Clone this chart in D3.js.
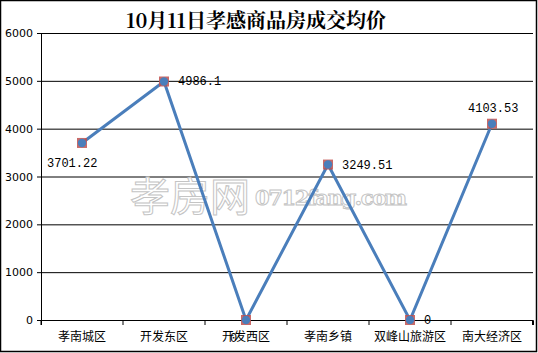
<!DOCTYPE html>
<html>
<head>
<meta charset="utf-8">
<script src="https://cdn.jsdelivr.net/npm/d3@7"></script>
<style>
  body { margin: 0; background: #fff; }
  svg { display: block; }
  .axis text { font-family: "DejaVu Sans", sans-serif; font-size: 11px; fill: #000; }
  .axis path, .axis line { stroke: #000; }
</style>
</head>
<body>
<div id="chart"></div>
<script>
'use strict';

// chart data
const categories = ['孝南城区', '开发东区', '开发西区', '孝南乡镇', '双峰山旅游区', '南大经济区'];
const prices = [3701.22, 4986.1, 0, 3249.51, 0, 4103.53];
const y_ticks = [0, 1000, 2000, 3000, 4000, 5000, 6000];
const title = '10月11日孝感商品房成交均价';

const svg_width = 538, svg_height = 353;
const margin = [33, 33, 41, 5]; // top, bottom, left, right
const chart_width = svg_width - margin[2] - margin[3];
const chart_height = svg_height - margin[0] - margin[1];

const svg = d3.select('#chart').append('svg')
    .attr('width', svg_width)
    .attr('height', svg_height);

// outer frame
svg.append('rect')
    .attr('x', 0.5).attr('y', 0.5)
    .attr('width', svg_width - 2).attr('height', svg_height - 2)
    .attr('fill', 'none').attr('stroke', '#000').attr('stroke-width', 1.5);

svg.append('text')
    .attr('x', 256).attr('y', 28)
    .attr('text-anchor', 'middle')
    .style('font-family', '"Noto Serif CJK SC", "Noto Sans CJK SC", serif')
    .style('font-size', '20px').style('font-weight', 'bold')
    .text(title);

const scale_x = d3.scaleBand().domain(categories).range([0, chart_width]);
const scale_y = d3.scaleLinear().domain([0, 6000]).range([chart_height, 0]);

const chart = svg.append('g').attr('transform', `translate(${margin[2]},${margin[0]})`);

// gridlines
chart.selectAll('line.grid').data(y_ticks.filter(d => d > 0))
    .join('line').classed('grid', true)
    .attr('x1', 0).attr('x2', chart_width)
    .attr('y1', d => scale_y(d) + 0.5).attr('y2', d => scale_y(d) + 0.5)
    .attr('stroke', '#000');

// watermark (outlined text)
const wm = chart.append('g').attr('fill', '#fff').attr('stroke', '#c4c4c4').attr('stroke-width', 1);
wm.append('text')
    .attr('x', 89).attr('y', 178)
    .style('font-family', '"Noto Sans CJK SC", sans-serif')
    .style('font-size', '40px')
    .text('孝房网');
wm.append('text')
    .attr('x', 214).attr('y', 172)
    .attr('textLength', 152)
    .style('font-family', '"DejaVu Serif", serif')
    .style('font-size', '21px').style('font-weight', 'bold')
    .text('0712fang.com');

// axes
chart.append('g').classed('axis', true)
    .attr('transform', `translate(0,${chart_height})`)
    .call(d3.axisBottom(scale_x).tickSize(5).tickSizeOuter(5).tickFormat(''))
    .call(g => {
        g.selectAll('.tick line').attr('transform', `translate(${-scale_x.bandwidth() / 2},0)`);
        g.append('line').attr('x1', chart_width - 0.5).attr('x2', chart_width - 0.5).attr('y1', 0).attr('y2', 5).attr('stroke', '#000');
    });

chart.append('g').classed('axis', true)
    .call(d3.axisLeft(scale_y).tickValues(y_ticks).tickFormat(d3.format('d')).tickSize(4).tickSizeOuter(0).tickPadding(4))
    .call(g => g.select('.domain').remove())
    .call(g => g.append('line').attr('x1', 0.5).attr('x2', 0.5).attr('y1', 0).attr('y2', chart_height + 5).attr('stroke', '#000'));

// category labels
chart.selectAll('text.cat').data(categories)
    .join('text').classed('cat', true)
    .attr('x', d => scale_x(d) + scale_x.bandwidth() / 2)
    .attr('y', chart_height + 21)
    .attr('text-anchor', 'middle')
    .style('font-family', '"Noto Sans CJK SC", sans-serif')
    .style('font-size', '12px')
    .text(d => d);

const cx = (d, i) => scale_x(categories[i]) + scale_x.bandwidth() / 2;
const cy = d => scale_y(d);

// line
chart.append('path')
    .datum(prices)
    .attr('fill', 'none')
    .attr('stroke', '#4a7ebb')
    .attr('stroke-width', 3)
    .attr('d', d3.line().x(cx).y(cy));

// markers: red square under blue dot
chart.selectAll('rect.mk').data(prices)
    .join('rect').classed('mk', true)
    .attr('x', (d, i) => cx(d, i) - 5).attr('y', d => cy(d) - 5)
    .attr('width', 10).attr('height', 10)
    .attr('fill', '#c0504d').attr('opacity', 0.85);
chart.selectAll('circle.mk').data(prices)
    .join('circle').classed('mk', true)
    .attr('cx', cx).attr('cy', cy).attr('r', 4.2)
    .attr('fill', '#4a7ebb');

// data labels, placed like the original
const label_pos = [[-35, 24, 'start'], [14, 4, 'start'], [-16, 22, 'start'], [14, 4, 'start'], [14, 4, 'start'], [-24, -12, 'start']];
chart.selectAll('text.val').data(prices)
    .join('text').classed('val', true)
    .attr('x', (d, i) => cx(d, i) + label_pos[i][0])
    .attr('y', (d, i) => cy(d) + label_pos[i][1])
    .attr('text-anchor', (d, i) => label_pos[i][2])
    .style('font-family', '"Liberation Mono", "DejaVu Sans Mono", monospace')
    .style('font-size', '12px')
    .text(d => d);
</script>
</body>
</html>
